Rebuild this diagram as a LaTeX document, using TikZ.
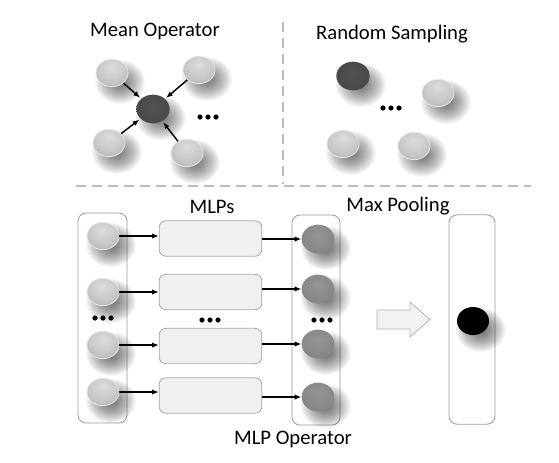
\documentclass[tikz,border=0pt]{standalone}
\usepackage{fontspec}
\setmainfont{Carlito}
\usetikzlibrary{arrows.meta,shapes.geometric}
\pgfdeclareradialshading{lglass}{\pgfpoint{0bp}{12bp}}{color(0bp)=(black!14); color(18bp)=(black!20); color(36bp)=(black!29); color(50bp)=(black!36); color(62bp)=(black!38)}
\pgfdeclareradialshading{mglass}{\pgfpoint{0bp}{8bp}}{color(0bp)=(black!42); color(25bp)=(black!47); color(45bp)=(black!55); color(60bp)=(black!60)}
\pgfdeclareradialshading{dglass}{\pgfpoint{0bp}{4bp}}{color(0bp)=(black!68); color(30bp)=(black!72); color(55bp)=(black!78)}
\newcommand\sph[4]{%
  \foreach \k in {0,...,15}
    \fill[black,opacity=0.04] (#3+8,#4+9) ellipse [x radius=25-\k*1.3,y radius=22-\k*1.15];
  \node[#2] (#1) at (#3,#4) {};}
\begin{document}
\begin{tikzpicture}[x=0.75pt,y=-0.75pt,
  lball/.style={ellipse,inner sep=0pt,minimum width=24pt,minimum height=20.5pt,shading=lglass,draw=black!10,line width=0.6pt},
  mball/.style={ellipse,inner sep=0pt,minimum width=24.5pt,minimum height=21.5pt,shading=mglass},
  dball/.style={ellipse,inner sep=0pt,minimum width=25pt,minimum height=21.5pt,shading=dglass},
  bball/.style={ellipse,inner sep=0pt,minimum width=24pt,minimum height=21pt,fill=black},
  lbl/.style={font=\fontsize{15.5}{18}\selectfont,inner sep=0pt},
  arr/.style={-{Latex[length=5pt,width=4pt]},line width=1.1pt,black},
  dline/.style={draw=gray!55,line width=1.5pt,dash pattern=on 7.5pt off 4.5pt},
  colbox/.style={draw=gray!80,rounded corners=6pt,line width=0.6pt,fill=white},
  mlpbox/.style={draw=gray!70,fill=gray!12,rounded corners=5pt,line width=0.6pt,minimum width=77pt,minimum height=26.5pt,inner sep=0pt}
]
\useasboundingbox (0,0) rectangle (559,462);
% dashed separators
\draw[dline] (283,22) -- (283,184);
\draw[dline] (76,186) -- (531,186);
% Mean operator
\node[lbl] (tmean) at (155,31) {Mean Operator};
\sph{c}{dball}{153}{109}
\sph{a1}{lball}{112}{73}
\sph{a2}{lball}{199}{70}
\sph{a3}{lball}{109}{143}
\sph{a4}{lball}{187}{153}
\draw[arr,shorten >=1pt] (a1) -- (c);
\draw[arr,shorten >=1pt] (a2) -- (c);
\draw[arr,shorten >=1pt] (a3) -- (c);
\draw[arr,shorten >=1pt] (a4) -- (c);
\foreach \x in {200,208,216} \fill (\x,117) circle (2.6);
% Random sampling
\node[lbl] (trand) at (392,34) {Random Sampling};
\sph{r0}{dball}{353}{76}
\sph{r1}{lball}{438}{93}
\sph{r2}{lball}{343}{144}
\sph{r3}{lball}{414}{146}
\foreach \x in {383,391,399} \fill (\x,108) circle (2.6);
% MLP operator
\node[colbox,minimum width=36.75pt,minimum height=157.5pt] (lb) at (102.5,318) {};
\node[colbox,minimum width=36pt,minimum height=157.5pt] (rb) at (316,320) {};
\node[lbl] (tmlps) at (212,207) {MLPs};
\node[lbl] (tmax) at (398,206) {Max Pooling};
\node[lbl] (tmlpop) at (293,439) {MLP Operator};
\sph{l1}{lball}{103}{236}
\sph{l2}{lball}{103}{292}
\sph{l3}{lball}{103}{345}
\sph{l4}{lball}{103}{392}
\node[mlpbox] (m1) at (210.5,238.5) {};
\node[mlpbox] (m2) at (210.5,292) {};
\node[mlpbox] (m3) at (210.5,346) {};
\node[mlpbox] (m4) at (210.5,395.5) {};
\sph{o1}{mball}{318}{239}
\sph{o2}{mball}{318}{289}
\sph{o3}{mball}{318}{344}
\sph{o4}{mball}{318}{397}
\foreach \i in {1,2,3,4} {
  \draw[arr] (l\i.east) -- (m\i.west |- l\i.east);
  \draw[arr] (m\i.east |- o\i.west) -- (o\i.west);
}
\foreach \x in {95,103,111} \fill (\x,318) circle (2.6);
\foreach \x in {202,210,218} \fill (\x,320) circle (2.6);
\foreach \x in {314,322,330} \fill (\x,320) circle (2.6);
% block arrow
\draw[draw=gray!60,fill=gray!10,line width=0.6pt] (377,310) -- (410,310) -- (410,302) -- (430,319.5) -- (410,337) -- (410,329) -- (377,329) -- cycle;
% max pooling column
\node[colbox,minimum width=34.5pt,minimum height=157pt] (pb) at (472,319.5) {};
\sph{p}{bball}{473}{321}
\end{tikzpicture}
\end{document}
